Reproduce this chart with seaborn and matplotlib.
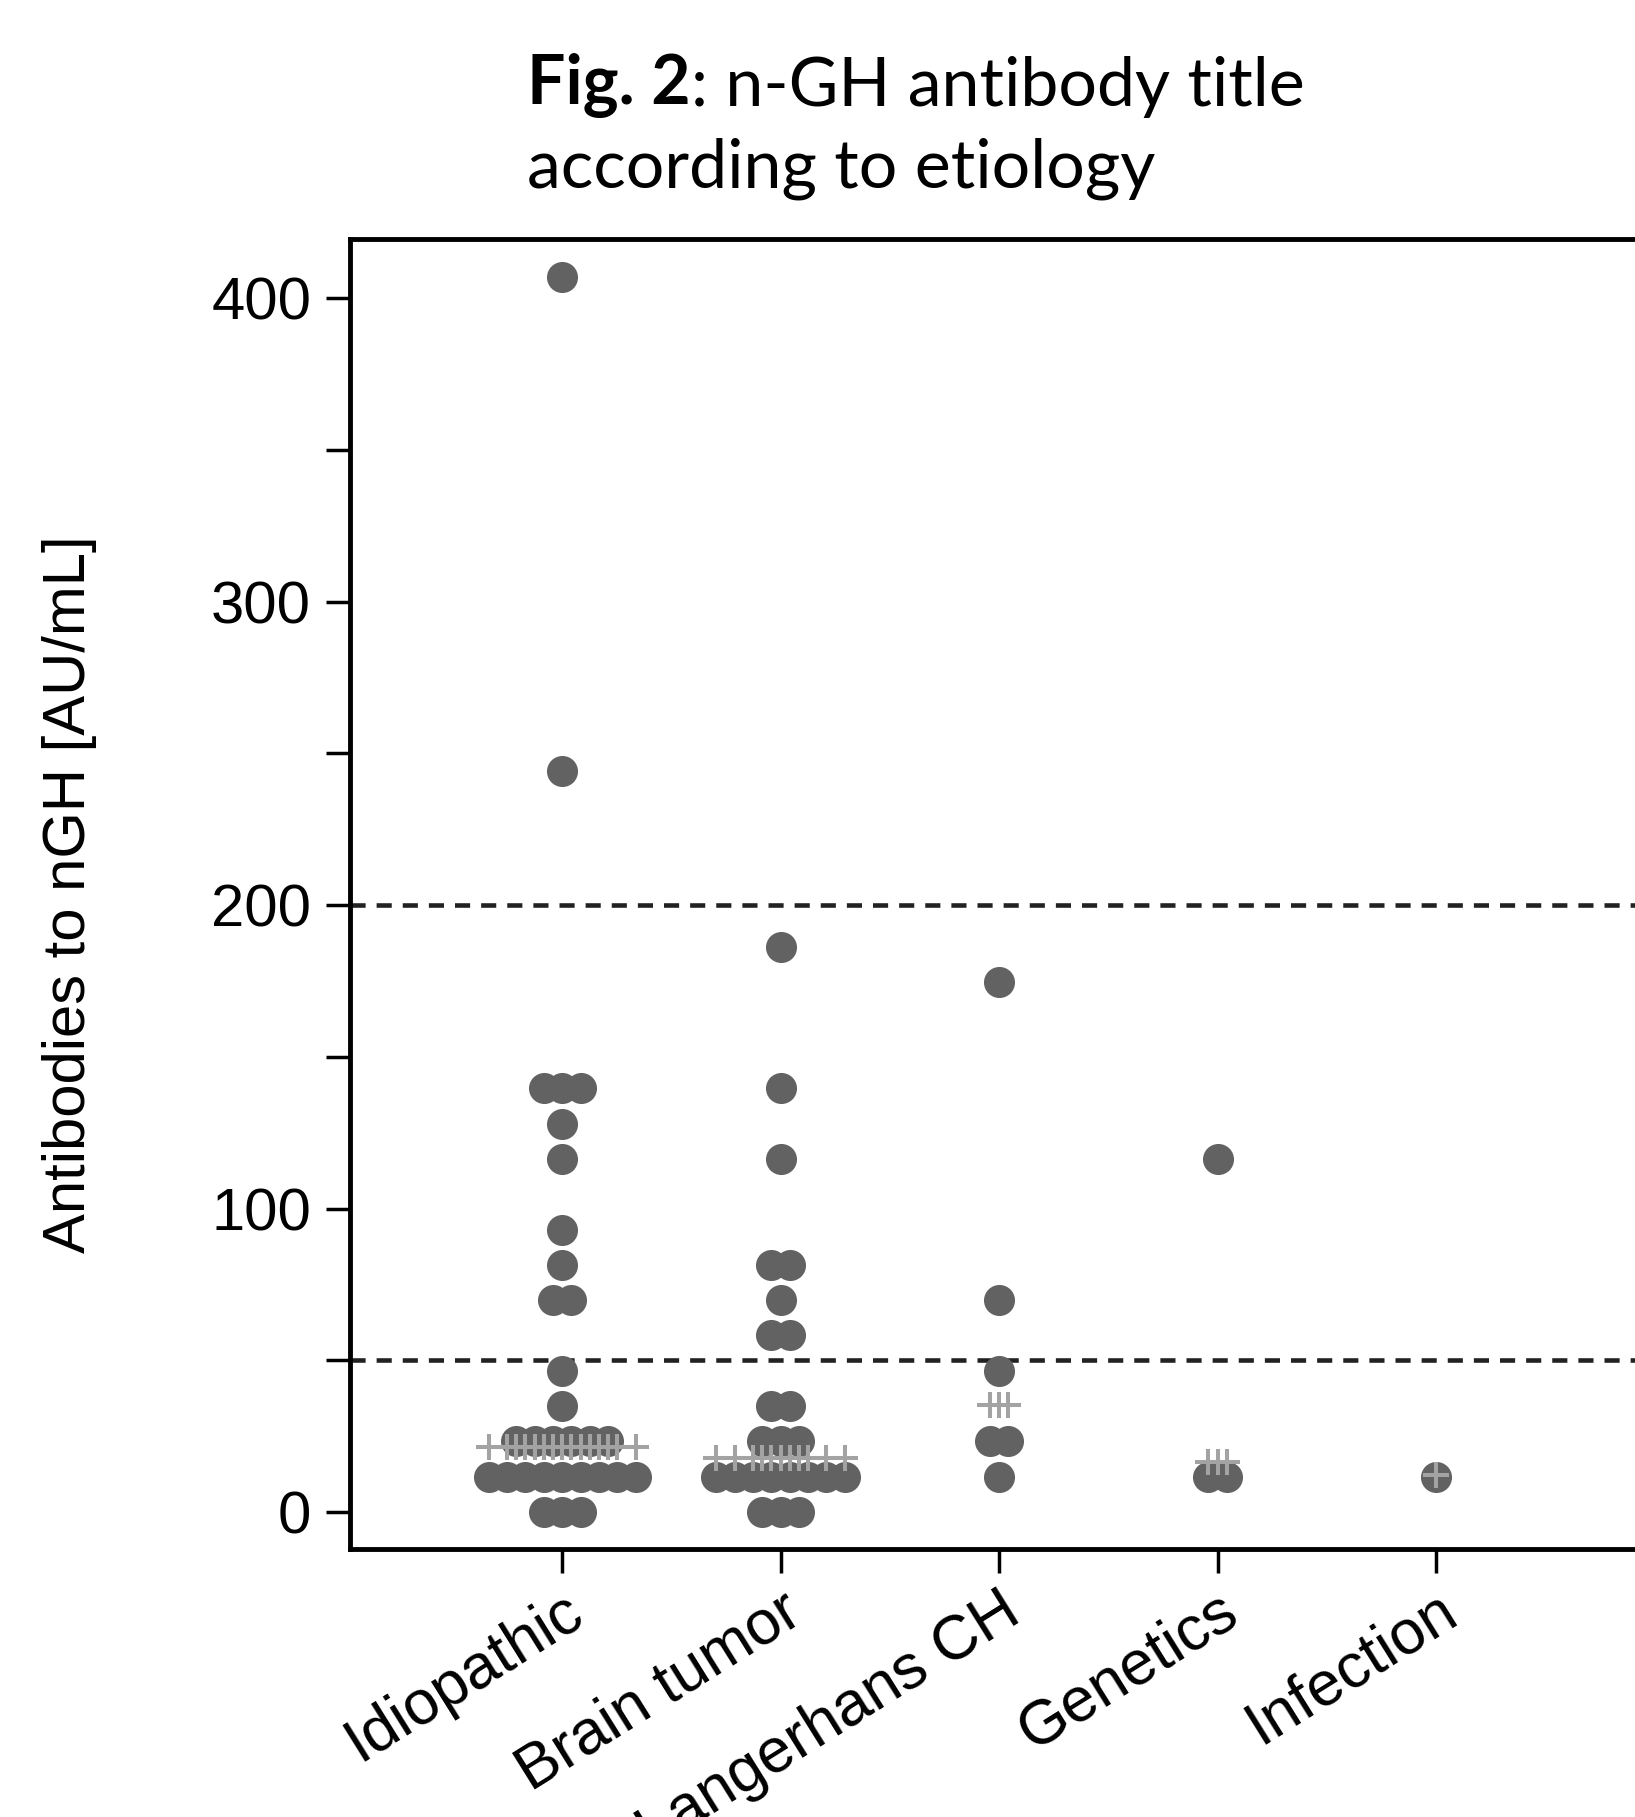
import numpy as np
import pandas as pd
import seaborn as sns
import matplotlib.pyplot as plt
from matplotlib.ticker import FixedLocator

# etiology groups, left to right
categories = ["Idiopathic", "Brain tumor", "Langerhans CH", "Genetics", "Infection"]

# antibody titres (AU/mL) as binned by the dot plot, one entry per patient
idiopathic = [0, 0, 0,
              11.6, 11.6, 11.6, 11.6, 11.6, 11.6, 11.6, 11.6, 11.6,
              23.3, 23.3, 23.3, 23.3, 23.3, 23.3,
              34.9, 46.5, 69.8, 69.8, 81.4, 93.0, 116.3, 127.9,
              139.6, 139.6, 139.6, 244.2, 407.1]
brain_tumor = [0, 0, 0,
               11.6, 11.6, 11.6, 11.6, 11.6, 11.6, 11.6, 11.6,
               23.3, 23.3, 23.3,
               34.9, 34.9, 58.2, 58.2, 69.8, 81.4, 81.4,
               116.3, 139.6, 186.1]
langerhans = [11.6, 23.3, 23.3, 46.5, 69.8, 174.5]
genetics = [11.6, 11.6, 116.3]
infection = [11.6]

# group medians (row of pluses)
medians = [21.5, 17.7, 35.3, 16.6, 12.2]

# reference cut-offs (dashed lines)
cutoffs = [200, 50]

y_major = [0, 100, 200, 300, 400]
y_minor = [50, 150, 250, 350]

DOT_STEP = 0.084  # horizontal spacing of stacked dots, in category units

groups = [idiopathic, brain_tumor, langerhans, genetics, infection]
rows = []
for pos, (name, vals) in enumerate(zip(categories, groups), start=1):
    for v in vals:
        rows.append((name, pos, v))
df = pd.DataFrame(rows, columns=["etiology", "pos", "value"])

# stack equal values side by side, centred on the category
grp = df.groupby(["etiology", "value"])
df["rank"] = grp.cumcount()
df["n"] = grp["value"].transform("size")
df["x"] = df["pos"] + (df["rank"] - (df["n"] - 1) / 2) * DOT_STEP

# median pluses sit at every dot column of the group
med = df[["etiology", "x"]].copy()
med["xr"] = med["x"].round(4)
med = med.drop_duplicates(["etiology", "xr"])
med["y"] = med["etiology"].map(dict(zip(categories, medians)))

sns.set_theme(style="ticks")
plt.rcParams["font.family"] = ["Liberation Sans", "DejaVu Sans"]
plt.rcParams.update({
    "text.color": "black",
    "axes.labelcolor": "black",
    "xtick.color": "black",
    "ytick.color": "black",
})

fig = plt.figure(figsize=(16.35, 18.17), dpi=100)
ax = fig.add_axes([0.2141, 0.1475, 0.7951, 0.7210])

for c in cutoffs:
    ax.axhline(c, color="#222222", lw=3.3, ls=(0, (3.3, 2.4)), zorder=1)

sns.scatterplot(data=df, x="x", y="value", color="#626262", s=500,
                linewidth=0, ax=ax, zorder=3, legend=False)
sns.scatterplot(data=med, x="x", y="y", marker="+", color="#a3a3a3", s=360,
                linewidth=2.9, ax=ax, zorder=4, legend=False)

ax.set_xlim(0.029, 5.98)
ax.set_ylim(-12.2, 419.5)
ax.set_xticks(range(1, len(categories) + 1))
ax.set_xticklabels(categories, rotation=32, ha="right", rotation_mode="anchor")
ax.yaxis.set_major_locator(FixedLocator(y_major))
ax.yaxis.set_minor_locator(FixedLocator(y_minor))
ax.tick_params(axis="both", which="both", length=17, width=2.5,
               direction="out", color="black")
ax.tick_params(axis="y", which="major", labelsize=43, pad=11,
               labelcolor="black")
ax.tick_params(axis="x", which="major", labelsize=45, pad=6,
               labelcolor="black")
for sp in ax.spines.values():
    sp.set_visible(True)
    sp.set_linewidth(3.5)
    sp.set_color("black")
ax.grid(False)
ax.set_xlabel("")
ax.set_ylabel("Antibodies to nGH [AU/mL]", fontsize=43, color="black")
ax.yaxis.set_label_coords(-0.195, 0.5)

# title, Calibri-like
t1 = fig.text(527 / 1635, 1 - 104 / 1817, "Fig. 2", fontsize=49,
              fontweight="bold", family="Lato", va="baseline", color="black")
ax.annotate(": n-GH antibody title", xy=(1, 0), xycoords=t1, va="bottom",
            fontsize=49, family="Lato", color="black", annotation_clip=False)
fig.text(527 / 1635, 1 - 188 / 1817, "according to etiology", fontsize=49,
         family="Lato", va="baseline", color="black")

fig.savefig("out.png", dpi=100)
